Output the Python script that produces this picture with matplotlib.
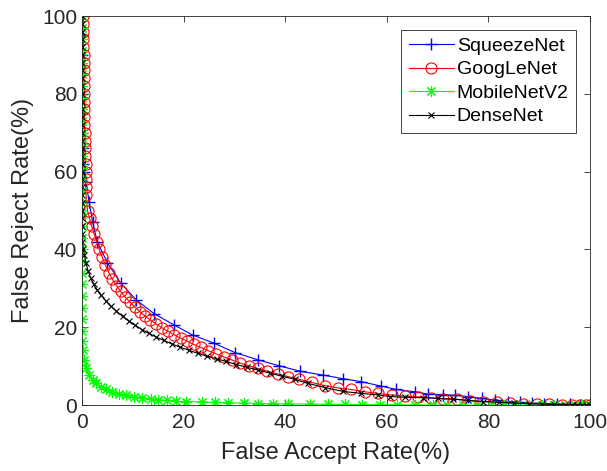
import numpy as np
import matplotlib
matplotlib.use('Agg')
import matplotlib.pyplot as plt

plt.rcParams['font.family'] = ['Liberation Sans', 'DejaVu Sans']

# SqueezeNet curve (FAR, FRR)
squeeze_far = [0, 0, 0, 0, 0, 0.1, 0.1, 0.2, 0.3, 0.5, 0.8, 1.4, 2.1, 3.0, 5.0,
               7.6, 10.7, 14.2, 18.1, 21.8, 26.0, 30.1, 34.7, 38.8, 42.9, 47.5,
               51.3, 55.0, 58.8, 61.9, 65.6, 68.2, 71.1, 73.4, 76.0, 78.7, 81.3,
               83.9, 86.2, 88.5, 91.0, 93.5, 96.0, 98.0, 100]
squeeze_frr = [100, 95, 90, 85, 80, 75, 70, 66, 62, 60, 57.4, 52.3, 47.1, 42.0, 36.6,
               31.4, 27.0, 23.5, 20.6, 18.0, 15.9, 13.5, 11.6, 10.1, 8.7, 7.7,
               6.8, 6.0, 4.9, 4.0, 3.4, 2.8, 2.7, 2.5, 2.2, 1.7, 1.3,
               0.9, 0.7, 0.5, 0.4, 0.3, 0.2, 0.1, 0]

# GoogLeNet
goog_far = [0.3, 0.3, 0.3, 0.3, 0.3, 0.4, 0.4, 0.4, 0.4, 0.4, 0.5, 0.5, 0.5, 0.5,
            0.5, 0.6, 0.6, 0.6, 0.6, 0.7, 0.7, 0.7, 0.7, 0.8,
            1.1, 1.5, 1.9, 2.4, 2.9, 3.4, 4.0, 4.6, 5.3, 6.0, 6.8, 7.6, 8.5, 9.4,
            10.4, 11.4, 12.4, 13.4, 14.5, 15.7, 16.9, 18.1, 19.4, 20.7, 22.0,
            23.4, 24.8, 26.3, 27.9, 29.5, 31.1, 32.8, 34.6, 36.5, 38.5, 40.6,
            42.8, 45.2, 47.8, 50.4, 53.0, 55.7, 58.3, 61.0, 63.6, 66.2, 68.8,
            71.1, 73.8, 76.4, 79.0, 81.6, 84.3, 86.9, 89.5, 92.0, 94.5, 96.5,
            98.0, 99.2, 100]
goog_frr = [100, 98, 96, 94, 92, 90, 88, 86, 84, 82, 80, 78, 76, 74,
            72, 70, 68, 66, 64, 62, 60, 58, 56, 54,
            50, 48, 46, 44, 42, 40, 38, 36, 34, 32.3, 30.7, 29.2, 27.8, 26.5,
            25.2, 24.0, 22.9, 21.9, 20.9, 19.9, 19.0, 18.1, 17.2, 16.4, 15.6,
            14.8, 14.0, 13.2, 12.4, 11.6, 10.8, 10.1, 9.4, 8.7, 8.0, 7.3,
            6.6, 5.8, 5.0, 4.4, 4.0, 3.4, 3.0, 2.6, 2.3, 2.1, 1.9,
            1.6, 1.5, 1.1, 0.9, 0.8, 0.6, 0.4, 0.3, 0.2, 0.1, 0.05,
            0.03, 0.01, 0]

# MobileNetV2
mobile_far = [0.1, 0.1, 0.1, 0.1, 0.1, 0.1, 0.1, 0.1, 0.1, 0.1, 0.1, 0.1, 0.1, 0.1,
              0.1, 0.1, 0.1, 0.1, 0.1, 0.1, 0.1, 0.1, 0.1, 0.1, 0.1, 0.1, 0.1,
              0.1, 0.1, 0.2, 0.5, 0.8, 1.4, 2.1, 2.8, 3.7, 4.7, 6.0, 7.3, 8.7,
              10.3, 11.9, 13.6, 15.0, 16.7, 18.6, 20.5, 23.6, 26.2, 28.8, 31.8,
              34.7, 37.6, 40.6, 44.9, 48.4, 51.8, 55.1, 58.7, 62.0, 65.6, 69.0,
              71.9, 75.0, 77.8, 80.5, 83.0, 85.5, 88.0, 90.5, 93.0, 95.0, 97.0,
              98.5, 100]
mobile_frr = [100, 97, 94, 91, 88, 85, 82, 79, 76, 73, 70, 67, 64, 61,
              58, 55, 52, 49, 46, 43, 40, 37, 34, 31, 28, 25, 22,
              19, 16.5, 14.1, 11.6, 9.4, 7.7, 6.4, 5.6, 4.7, 4.0, 3.4, 2.8, 2.5,
              2.1, 1.9, 1.6, 1.4, 1.2, 1.0, 0.9, 0.8, 0.7, 0.6, 0.5,
              0.4, 0.35, 0.3, 0.25, 0.2, 0.15, 0.1, 0.1, 0.05, 0.05, 0,
              0, 0, 0, 0, 0, 0, 0, 0, 0, 0, 0,
              0, 0]

# DenseNet
dense_far = [0, 0, 0, 0, 0, 0, 0, 0, 0, 0, 0, 0, 0, 0, 0, 0, 0, 0, 0, 0, 0, 0,
             0, 0, 0, 0, 0, 0, 0, 0.1, 0.3, 0.5, 0.8, 1.2, 1.7, 2.3, 3.0, 3.8,
             4.7, 5.7, 6.8, 8.0, 9.2, 10.5, 11.8, 13.2, 14.6, 16.1, 17.7, 19.3,
             21.0, 22.8, 24.6, 26.5, 28.4, 30.4, 32.5, 34.7, 37.0, 39.4, 41.9,
             44.4, 47.8, 51.4, 55.0, 58.3, 60.6, 63.6, 67.2, 70.1, 73.1, 76.0,
             79.0, 82.0, 85.0, 88.0, 90.5, 93.0, 95.0, 96.5, 97.5, 98.5, 99.3,
             100]
dense_frr = [100, 98, 96, 94, 92, 90, 88, 86, 84, 82, 80, 78, 76, 74, 72, 70, 68,
             66, 64, 62, 60, 58, 56, 54, 52, 50, 48, 46, 44, 42, 40, 38.5, 36.5,
             34.5, 32.7, 31.0, 29.6, 28.2, 26.8, 25.4, 24.1, 22.8, 21.6, 20.5,
             19.4, 18.4, 17.5, 16.6, 15.7, 14.9, 14.1, 13.3, 12.6, 11.9, 11.2,
             10.4, 9.7, 9.0, 8.2, 7.4, 6.6, 5.6, 4.5, 3.5, 3.0, 2.6, 2.2, 2.0,
             1.9, 1.7, 1.5, 1.2, 0.9, 0.7, 0.5, 0.35, 0.25, 0.15, 0.1, 0.07,
             0.05, 0.02, 0.01, 0]

fig = plt.figure(figsize=(6.07, 4.71), dpi=100)
ax = fig.add_axes([0.135, 0.140, 0.837, 0.826])

ax.plot(squeeze_far, squeeze_frr, color='#0000ff', marker='+', markersize=9,
        linewidth=0.8, markeredgewidth=1.0, label='SqueezeNet')
ax.plot(goog_far, goog_frr, color='#ff0000', marker='o', markersize=8,
        linewidth=0.8, markerfacecolor='none', markeredgewidth=0.8,
        label='GoogLeNet')
ax.plot(mobile_far, mobile_frr, color='#00ff00', marker=(8, 2, 0), markersize=8,
        linewidth=0.8, markeredgewidth=0.8, label='MobileNetV2')
ax.plot(dense_far, dense_frr, color='#000000', marker='x', markersize=5,
        linewidth=0.8, markeredgewidth=0.8, label='DenseNet')

ax.set_xlim(0, 100)
ax.set_ylim(0, 100)
ax.set_xticks([0, 20, 40, 60, 80, 100])
ax.set_yticks([0, 20, 40, 60, 80, 100])
ax.tick_params(direction='in', top=True, right=True, labelsize=15,
               colors='#262626', length=4, width=0.6)
ax.tick_params(axis='x', pad=6)
for sp in ax.spines.values():
    sp.set_color('#262626')
    sp.set_linewidth(0.6)

ax.set_xlabel('False Accept Rate(%)', fontsize=17, color='#262626', labelpad=7)
ax.set_ylabel('False Reject Rate(%)', fontsize=17, color='#262626', labelpad=6)

leg = ax.legend(loc='upper right', fontsize=14, fancybox=False, framealpha=1,
                edgecolor='#262626', borderaxespad=0.7, labelspacing=0.3,
                handlelength=2.3, handletextpad=0.15, borderpad=0.4)
leg.get_frame().set_linewidth(0.6)

fig.savefig('out.png', dpi=100)
